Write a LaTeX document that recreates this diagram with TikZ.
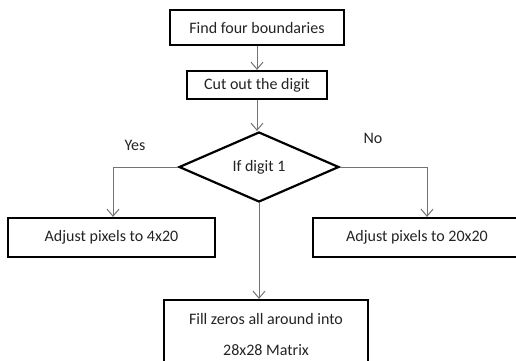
\documentclass[tikz,border=0pt]{standalone}
\usepackage{fontspec}
\setmainfont{Carlito}
\usetikzlibrary{shapes.geometric,arrows.meta}
\definecolor{conn}{RGB}{115,115,115}
\definecolor{txt}{RGB}{35,35,35}
\tikzset{
  box/.style={draw=black,line width=2.2pt,rectangle,inner sep=0pt,font=\fontsize{16}{18}\selectfont,text=txt},
  dia/.style={draw=black,line width=2.2pt,diamond,inner sep=0pt,aspect=2.29,minimum width=160pt,minimum height=70pt,font=\fontsize{16}{18}\selectfont,text=txt},
  conn/.style={draw=conn,line width=1pt,-{Straight Barb[length=7pt,width=12pt]}},
  lbl/.style={font=\fontsize{16}{18}\selectfont,text=txt}
}
\begin{document}
\begin{tikzpicture}[x=1pt,y=-1pt]
\useasboundingbox (0,0) rectangle (516,360);
\node[box,minimum width=174pt,minimum height=35pt] (b1) at (257,27.5) {Find four boundaries};
\node[box,minimum width=140pt,minimum height=28pt] (b2) at (257,85) {Cut out the digit};
\node[dia] (d) at (259,167) {If digit 1};
\node[box,minimum width=207pt,minimum height=39pt] (L) at (111.5,237.5) {Adjust pixels to 4x20};
\node[box,minimum width=208pt,minimum height=39pt] (R) at (417,237.5) {Adjust pixels to 20x20};
\node[box,minimum width=204pt,minimum height=68pt,align=center,font=\fontsize{16}{31}\selectfont] (F) at (266,334) {Fill zeros all around into\\28x28 Matrix};
\node[lbl] (yes) at (135,145) {Yes};
\node[lbl] (no) at (373,138) {No};
\coordinate (lc) at (113,167);
\coordinate (rc) at (427,167);
\draw[conn] (b1.south) -- (b2.north);
\draw[conn] (b2.south) -- (b2.south |- d.north);
\draw[conn] (d.west) -- (lc) -- (lc |- L.north);
\draw[conn] (d.east) -- (rc) -- (rc |- R.north);
\draw[conn] (d.south) -- (d.south |- F.north);
\end{tikzpicture}
\end{document}
